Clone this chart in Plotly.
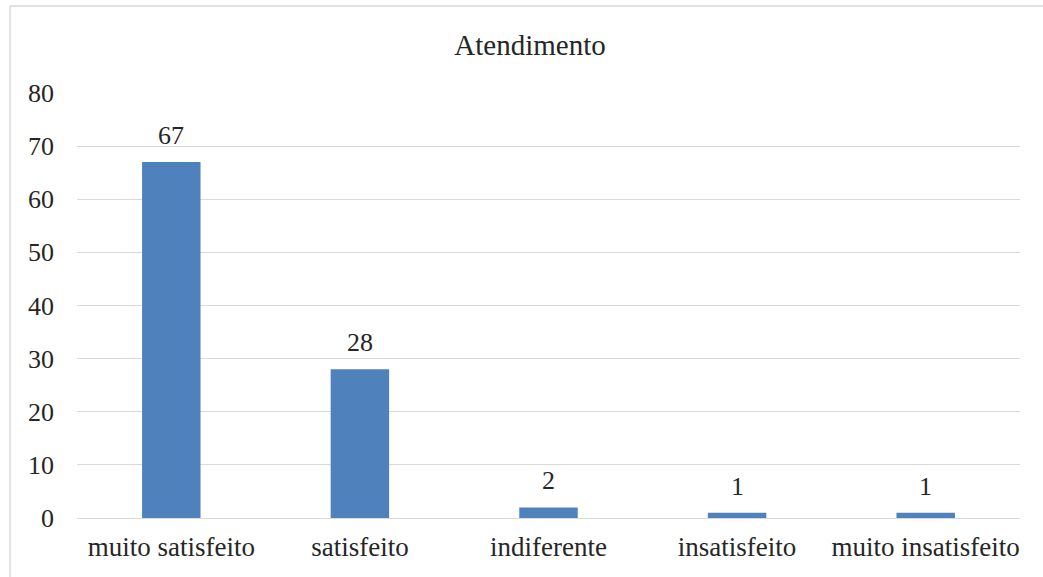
import plotly.graph_objects as go

categories = ["muito satisfeito", "satisfeito", "indiferente", "insatisfeito", "muito insatisfeito"]
values = [67, 28, 2, 1, 1]
y_ticks = [0, 10, 20, 30, 40, 50, 60, 70, 80]

FONT = "Liberation Serif, Times New Roman, serif"
TXT = "#262626"
FS = 26

fig = go.Figure(go.Bar(
    x=categories, y=values,
    marker=dict(color="#4F81BD", line=dict(width=0)),
    width=0.31, hoverinfo="x+y",
))

for c, v in zip(categories, values):
    fig.add_annotation(x=c, y=v, text=str(v), showarrow=False, xanchor="center",
                       yanchor="bottom", yshift=10,
                       font=dict(family=FONT, size=FS, color=TXT))

W, H = 1043, 577
L, R, T, B = 77, 23, 93, 59
pw, ph = W - L - R, H - T - B

def px(x):
    return (x - L) / pw

def py(y):
    return (H - B - y) / ph

fig.update_layout(
    width=W, height=H,
    margin=dict(l=L, r=R, t=T, b=B),
    paper_bgcolor="white", plot_bgcolor="white",
    showlegend=False,
    font=dict(family=FONT, size=FS, color=TXT),
    title=dict(text="Atendimento", x=530 / W, xanchor="center",
               y=1 - 45 / H, yanchor="middle", yref="container",
               font=dict(family=FONT, size=29, color=TXT)),
    xaxis=dict(showgrid=False, showline=False, ticks="", ticklabelstandoff=10,
               tickfont=dict(family=FONT, size=27, color=TXT)),
    yaxis=dict(range=[0, 80], tickvals=y_ticks, showgrid=True, gridcolor="#d9d9d9",
               gridwidth=1.3, zeroline=True, zerolinecolor="#d9d9d9", zerolinewidth=1.3,
               showline=False, ticks="", ticklabelstandoff=22,
               tickfont=dict(family=FONT, size=FS, color=TXT)),
    shapes=[
        dict(type="line", xref="paper", yref="paper", x0=px(10), x1=px(1060),
             y0=py(6), y1=py(6), line=dict(color="#d9d9d9", width=1.5)),
        dict(type="line", xref="paper", yref="paper", x0=px(10), x1=px(10),
             y0=py(6), y1=py(600), line=dict(color="#d9d9d9", width=1.5)),
    ],
)

fig.write_html("out.html")
